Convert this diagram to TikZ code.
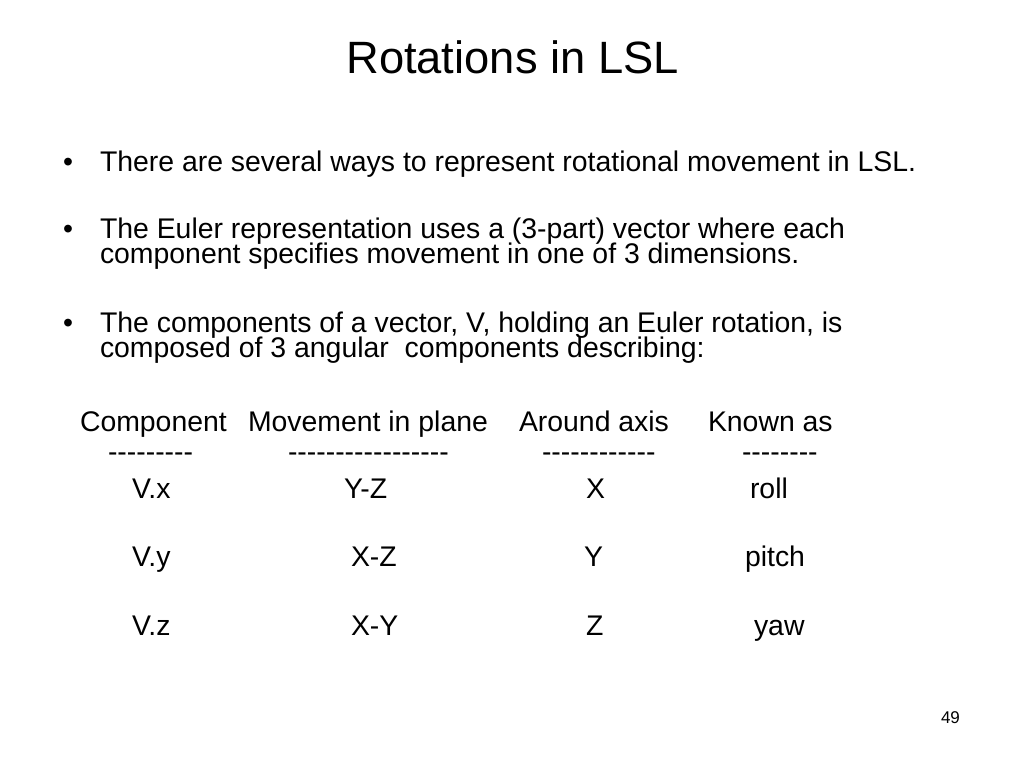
\documentclass[tikz,border=0pt]{standalone}
\usepackage{fontspec}
\setmainfont{Liberation Sans}[Ligatures=TeXOff]
\begin{document}
\begin{tikzpicture}[x=1pt,y=1pt,
  txt/.style={inner sep=0pt, outer sep=0pt, anchor=base west, font=\fontsize{28.4}{30}\selectfont},
  ttl/.style={inner sep=0pt, outer sep=0pt, anchor=base, font=\fontsize{45.3}{50}\selectfont},
  pgn/.style={inner sep=0pt, outer sep=0pt, anchor=base west, font=\fontsize{17}{20}\selectfont}]
\useasboundingbox[fill=white] (0,0) rectangle (1024,768);
% title
\node[ttl] (title) at (512.5,{768-74}) {Rotations in LSL};
% bullets
\node[txt] (b1) at (63,{768-172}) {•};
\node[txt] (l1) at (100,{768-172}) {There are several ways to represent rotational movement in LSL.};
\node[txt] (b2) at (63,{768-239}) {•};
\node[txt] (l2) at (100,{768-239}) {The Euler representation uses a (3-part) vector where each};
\node[txt] (l3) at (100,{768-264}) {component specifies movement in one of 3 dimensions.};
\node[txt] (b3) at (63,{768-333}) {•};
\node[txt] (l4) at (100,{768-333}) {The components of a vector, V, holding an Euler rotation, is};
\node[txt] (l5) at (100,{768-358}) {composed of 3 angular\ \ components describing:};
% table header
\node[txt] (h1) at (80,{768-432}) {Component};
\node[txt] (h2) at (248,{768-432}) {Movement in plane};
\node[txt] (h3) at (519,{768-432}) {Around axis};
\node[txt] (h4) at (708,{768-432}) {Known as};
% dashes
\node[txt] (d1) at (108,{768-462}) {{-}{-}{-}{-}{-}{-}{-}{-}{-}};
\node[txt] (d2) at (288,{768-462}) {{-}{-}{-}{-}{-}{-}{-}{-}{-}{-}{-}{-}{-}{-}{-}{-}{-}};
\node[txt] (d3) at (542,{768-462}) {{-}{-}{-}{-}{-}{-}{-}{-}{-}{-}{-}{-}};
\node[txt] (d4) at (742,{768-462}) {{-}{-}{-}{-}{-}{-}{-}{-}};
% rows
\node[txt] (r1a) at (132,{768-499}) {V.x};
\node[txt] (r1b) at (344,{768-499}) {Y-Z};
\node[txt] (r1c) at (586,{768-499}) {X};
\node[txt] (r1d) at (750,{768-499}) {roll};
\node[txt] (r2a) at (132,{768-567}) {V.y};
\node[txt] (r2b) at (351,{768-567}) {X-Z};
\node[txt] (r2c) at (584,{768-567}) {Y};
\node[txt] (r2d) at (745,{768-567}) {pitch};
\node[txt] (r3a) at (132,{768-635}) {V.z};
\node[txt] (r3b) at (351,{768-635}) {X-Y};
\node[txt] (r3c) at (586,{768-635}) {Z};
\node[txt] (r3d) at (754,{768-635}) {yaw};
% page number
\node[pgn] (pg) at (941,{768-723}) {49};
\end{tikzpicture}
\end{document}
